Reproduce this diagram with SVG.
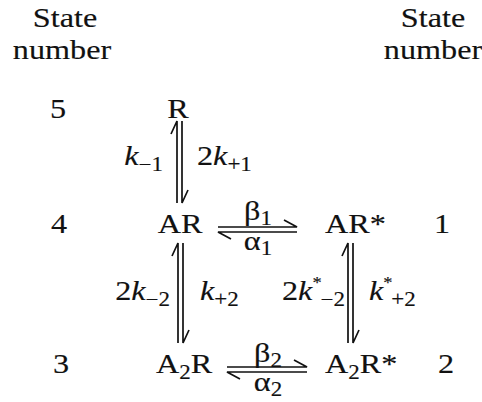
<svg xmlns="http://www.w3.org/2000/svg" width="482" height="402" viewBox="0 0 482 402">
<style>
text{font-family:"Liberation Serif","Times New Roman",serif;fill:#111;stroke:#111;stroke-width:0.15;font-size:28px}
.m{text-anchor:middle}
.e{text-anchor:end}
.i{font-style:italic}
.s{font-size:20px}
.st{font-size:16px}
.a{fill:none;stroke:#111;stroke-width:1.7;stroke-linecap:butt;stroke-linejoin:miter}
</style>
<rect width="482" height="402" fill="#fff"/>
<g id="headers">
<text class="m" transform="translate(65,27) scale(1.15,1)">State</text>
<text class="m" transform="translate(62,59) scale(1.15,1)">number</text>
<text class="m" transform="translate(433,27) scale(1.15,1)">State</text>
<text class="m" transform="translate(433,59) scale(1.15,1)">number</text>
</g>
<g id="state-numbers">
<text class="m" transform="translate(58,118) scale(1.15,1)">5</text>
<text class="m" transform="translate(59,233) scale(1.15,1)">4</text>
<text class="m" transform="translate(61,373) scale(1.15,1)">3</text>
<text class="m" transform="translate(442,233) scale(1.15,1)">1</text>
<text class="m" transform="translate(446,373) scale(1.15,1)">2</text>
</g>
<g id="node-R"><text class="m" transform="translate(178,118) scale(1.15,1)">R</text></g>
<g id="node-AR"><text class="m" transform="translate(180,233) scale(1.15,1)">AR</text></g>
<g id="node-ARstar"><text transform="translate(325,233) scale(1.15,1)">AR*</text></g>
<g id="node-A2R"><text transform="translate(156,373) scale(1.15,1)">A<tspan class="s" dy="6">2</tspan><tspan dy="-6">R</tspan></text></g>
<g id="node-A2Rstar"><text transform="translate(325,373) scale(1.15,1)">A<tspan class="s" dy="6">2</tspan><tspan dy="-6">R*</tspan></text></g>
<g id="connectors">
<path class="a" d="M177,203 L177,121 L171,134"/>
<path class="a" d="M182,121 L182,203 L188,190"/>
<path class="a" d="M218,227 L297,227 L284,220"/>
<path class="a" d="M297,232 L218,232 L231,239"/>
<path class="a" d="M178,343 L178,243 L172,256"/>
<path class="a" d="M183,243 L183,343 L189,330"/>
<path class="a" d="M348,343 L348,243 L342,256"/>
<path class="a" d="M353,243 L353,343 L359,330"/>
<path class="a" d="M227,367 L307,367 L294,360"/>
<path class="a" d="M307,372 L227,372 L240,379"/>
<g id="labels">
<text class="e" transform="translate(163,165) scale(1.15,1)"><tspan class="i">k</tspan><tspan class="s" dy="6">−1</tspan></text>
<text transform="translate(197,165) scale(1.15,1)">2<tspan class="i">k</tspan><tspan class="s" dy="6">+1</tspan></text>
<text class="m" transform="translate(258,220) scale(1.15,1)">β<tspan class="s" dy="5">1</tspan></text>
<text class="m" transform="translate(258,250) scale(1.15,1)">α<tspan class="s" dy="5">1</tspan></text>
<text class="e" transform="translate(170,300) scale(1.15,1)">2<tspan class="i">k</tspan><tspan class="s" dy="6">−2</tspan></text>
<text transform="translate(200,300) scale(1.15,1)"><tspan class="i">k</tspan><tspan class="s" dy="6">+2</tspan></text>
<text transform="translate(282,300) scale(1.15,1)">2<tspan class="i">k</tspan><tspan class="st" dy="-12">*</tspan><tspan class="s" dx="-1" dy="18">−2</tspan></text>
<text transform="translate(369,300) scale(1.15,1)"><tspan class="i">k</tspan><tspan class="st" dy="-12">*</tspan><tspan class="s" dx="-1" dy="18">+2</tspan></text>
<text class="m" transform="translate(268,362) scale(1.15,1)">β<tspan class="s" dy="5">2</tspan></text>
<text class="m" transform="translate(268,391) scale(1.15,1)">α<tspan class="s" dy="5">2</tspan></text>
</g>
</g>
</svg>
